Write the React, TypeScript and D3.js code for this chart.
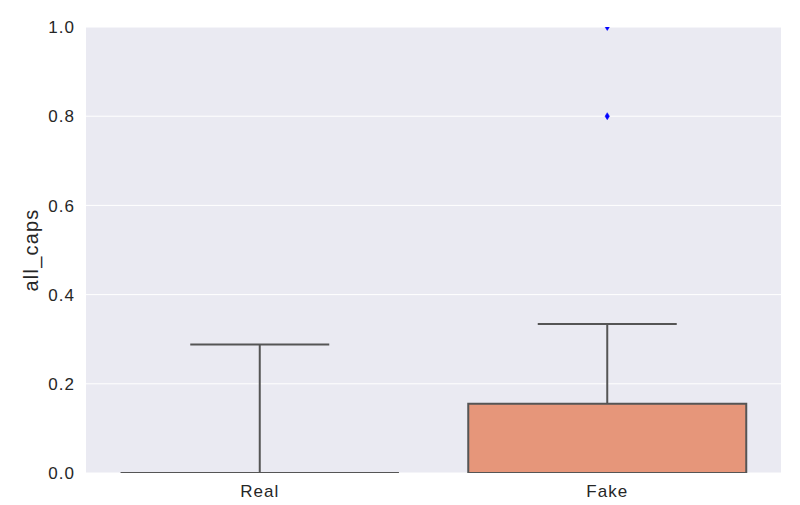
import React from "react";
import * as d3 from "d3";

// box stats
const categories = ["Real", "Fake"];
const q1 = [0, 0];
const medians = [0, 0];
const q3 = [0, 0.155];
const whiskLo = [0, 0];
const whiskHi = [0.288, 0.334];
const outliers = [[], [0.8, 1.0]];
const boxColors = ["#8fb9d6", "#e6967a"];
const yTicks = [0, 0.2, 0.4, 0.6, 0.8, 1.0];

const width = 800;
const height = 505;
const margin = {top: 27, right: 19, bottom: 32, left: 86};
const font = "'Liberation Sans', Arial, sans-serif";
const lineColor = "#555555";

const App = () => {
    const innerW = width - margin.left - margin.right;
    const innerH = height - margin.top - margin.bottom;

    const x = d3.scaleBand().domain(categories).range([0, innerW]);
    const y = d3.scaleLinear().domain([0, 1]).range([innerH, 0]);

    const boxW = x.bandwidth() * 0.8;
    const capW = boxW / 2;

    return (
        <svg width={width} height={height} style={{position: "absolute", left: 0, top: 0}}>
            <defs>
                <clipPath id="plotClip">
                    <rect x={0} y={0} width={innerW} height={innerH}/>
                </clipPath>
            </defs>
            <g transform={`translate(${margin.left},${margin.top})`}>
                <rect width={innerW} height={innerH} fill="#eaeaf2"/>
                {yTicks.map(t => (
                    <line key={t} x1={0} x2={innerW} y1={y(t)} y2={y(t)} stroke="#ffffff" strokeWidth={1}/>
                ))}
                {yTicks.map(t => (
                    <text key={"l" + t} x={-11} y={y(t)} dy="0.36em" textAnchor="end"
                          fontFamily={font} fontSize={17} letterSpacing={1} fill="#262626">
                        {t.toFixed(1)}
                    </text>
                ))}
                <g clipPath="url(#plotClip)">
                    {categories.map((c, i) => {
                        const cx = (x(c) as number) + x.bandwidth() / 2;
                        const x0 = cx - boxW / 2;
                        const x1 = cx + boxW / 2;
                        const boxPath = `M${x0},${y(q1[i])}H${x1}V${y(q3[i])}H${x0}Z`;
                        return (
                            <g key={c}>
                                <line x1={cx} x2={cx} y1={y(q3[i])} y2={y(whiskHi[i])} stroke={lineColor} strokeWidth={2}/>
                                <line x1={cx} x2={cx} y1={y(q1[i])} y2={y(whiskLo[i])} stroke={lineColor} strokeWidth={2}/>
                                <line x1={cx - capW / 2} x2={cx + capW / 2} y1={y(whiskHi[i])} y2={y(whiskHi[i])}
                                      stroke={lineColor} strokeWidth={2}/>
                                <line x1={cx - capW / 2} x2={cx + capW / 2} y1={y(whiskLo[i])} y2={y(whiskLo[i])}
                                      stroke={lineColor} strokeWidth={2}/>
                                <path d={boxPath} fill={boxColors[i]} stroke={lineColor} strokeWidth={2}/>
                                <line x1={x0} x2={x1} y1={y(medians[i])} y2={y(medians[i])} stroke={lineColor} strokeWidth={2}/>
                                {outliers[i].map((v, k) => (
                                    <path key={k}
                                          d={`M${cx},${y(v) - 3.5}L${cx + 2.2},${y(v)}L${cx},${y(v) + 3.5}L${cx - 2.2},${y(v)}Z`}
                                          fill="#0000ff" stroke="#0000ff" strokeWidth={0.5}/>
                                ))}
                            </g>
                        );
                    })}
                </g>
                {categories.map(c => (
                    <text key={c} x={(x(c) as number) + x.bandwidth() / 2} y={innerH + 24}
                          textAnchor="middle" fontFamily={font} fontSize={17} letterSpacing={1} fill="#262626">
                        {c}
                    </text>
                ))}
                <text transform={`translate(${38 - margin.left},${innerH / 2}) rotate(-90)`}
                      textAnchor="middle" fontFamily={font} fontSize={20} letterSpacing={1.2} fill="#262626">
                    all_caps
                </text>
            </g>
        </svg>
    );
};

export default App;
